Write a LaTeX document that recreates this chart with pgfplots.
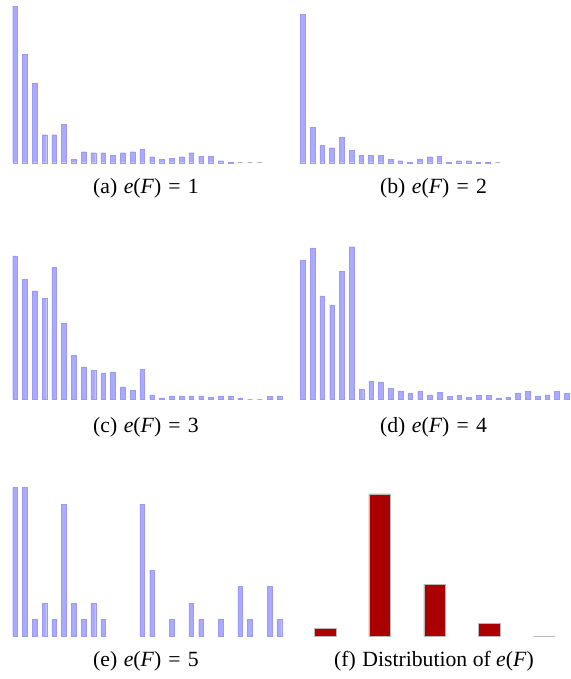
\documentclass[border=0pt]{standalone}
\usepackage{pgfplots}
\pgfplotsset{compat=1.18}
\usepackage{fontspec}
\setmainfont{Liberation Serif}
\definecolor{barblue}{RGB}{170,170,255}
\definecolor{barblueedge}{RGB}{155,155,245}
\definecolor{barred}{RGB}{170,0,0}
\newcommand{\eF}{\textit{e}(\textit{F})\hspace{0.33em}=\hspace{0.33em}}
\pgfplotsset{
  panel/.style={hide axis, scale only axis, clip=false, anchor=south west,
    ymin=0, xmin=0, y=0.3333pt},
  bluebars/.style={ybar, bar width=4.7pt, fill=barblue, draw=barblueedge, line width=0.3pt},
  zerobars/.style={ybar, bar width=4.7pt, draw=gray!60, line width=0.6pt, fill=none},
}
\begin{document}
\begin{tikzpicture}
\path[use as bounding box] (0,0) rectangle (570pt,-679pt);
\fontsize{21.7}{26}\selectfont
% (a)
\begin{axis}[panel, at={(15pt,-162.7pt)}, x=9.79pt, xmax=25, ymax=470]
\addplot[bluebars] coordinates {(0,470)(1,326)(2,238)(3,84)(4,84)(5,115)(6,10)(7,33)(8,30)(9,30)(10,23)(11,30)(12,33)(13,41)(14,18)(15,10)(16,14)(17,18)(18,30)(19,20)(20,20)(21,6)(22,2)};
\addplot[zerobars] coordinates {(23,0)(24,0)(25,0)};
\end{axis}
% (b)
\begin{axis}[panel, at={(302.7pt,-162.7pt)}, x=9.75pt, xmax=20, ymax=446]
\addplot[bluebars] coordinates {(0,446)(1,107)(2,52)(3,45)(4,77)(5,37)(6,22)(7,22)(8,22)(9,10)(10,6)(11,2)(12,10)(13,18)(14,19)(15,2)(16,6)(17,6)(18,2)(19,2)};
\addplot[zerobars] coordinates {(20,0)};
\end{axis}
% (c)
\begin{axis}[panel, at={(15pt,-399.3pt)}, x=9.79pt, xmax=27, ymax=430]
\addplot[bluebars] coordinates {(0,430)(1,360)(2,325)(3,303)(4,395)(5,229)(6,131)(7,97)(8,86)(9,79)(10,82)(11,37)(12,27)(13,90)(14,13)(15,4)(16,10)(17,10)(18,10)(19,10)(20,5)(21,8)(22,10)(23,4)(26,8)(27,10)};
\addplot[zerobars] coordinates {(24,0)(25,0)};
\end{axis}
% (d)
\begin{axis}[panel, at={(302.7pt,-399.3pt)}, x=9.78pt, xmax=27, ymax=458]
\addplot[bluebars] coordinates {(0,418)(1,454)(2,310)(3,283)(4,384)(5,458)(6,29)(7,55)(8,52)(9,33)(10,25)(11,17)(12,24)(13,13)(14,20)(15,9)(16,12)(17,6)(18,13)(19,12)(20,4)(21,6)(22,17)(23,24)(24,10)(25,13)(26,24)(27,17)};
\end{axis}
% (e)
\begin{axis}[panel, at={(15pt,-636pt)}, x=9.79pt, xmax=27, y=16.5pt, ymax=9]
\addplot[bluebars] coordinates {(0,9)(1,9)(2,1)(3,2)(4,1)(5,8)(6,2)(7,1)(8,2)(9,1)(13,8)(14,4)(16,1)(18,2)(19,1)(21,1)(23,3)(24,1)(26,3)(27,1)};
\end{axis}
% (f)
\begin{axis}[panel, at={(325pt,-636.3pt)}, x=54.83pt, xmax=4, ymax=427]
\addplot[ybar, bar width=21.7pt, fill=barred, draw=gray!55, line width=0.6pt] coordinates {(0,24)(1,427)(2,156)(3,39)(4,0)};
\end{axis}
\node at (146pt,-188pt) {(a)\hspace{0.3em}\eF 1};
\node at (433.5pt,-188pt) {(b)\hspace{0.3em}\eF 2};
\node at (146pt,-427pt) {(c)\hspace{0.3em}\eF 3};
\node at (433.5pt,-427pt) {(d)\hspace{0.3em}\eF 4};
\node at (146pt,-661pt) {(e)\hspace{0.3em}\eF 5};
\node at (434pt,-661pt) {(f)\hspace{0.3em}Distribution of \textit{e}(\textit{F})};
\end{tikzpicture}
\end{document}
